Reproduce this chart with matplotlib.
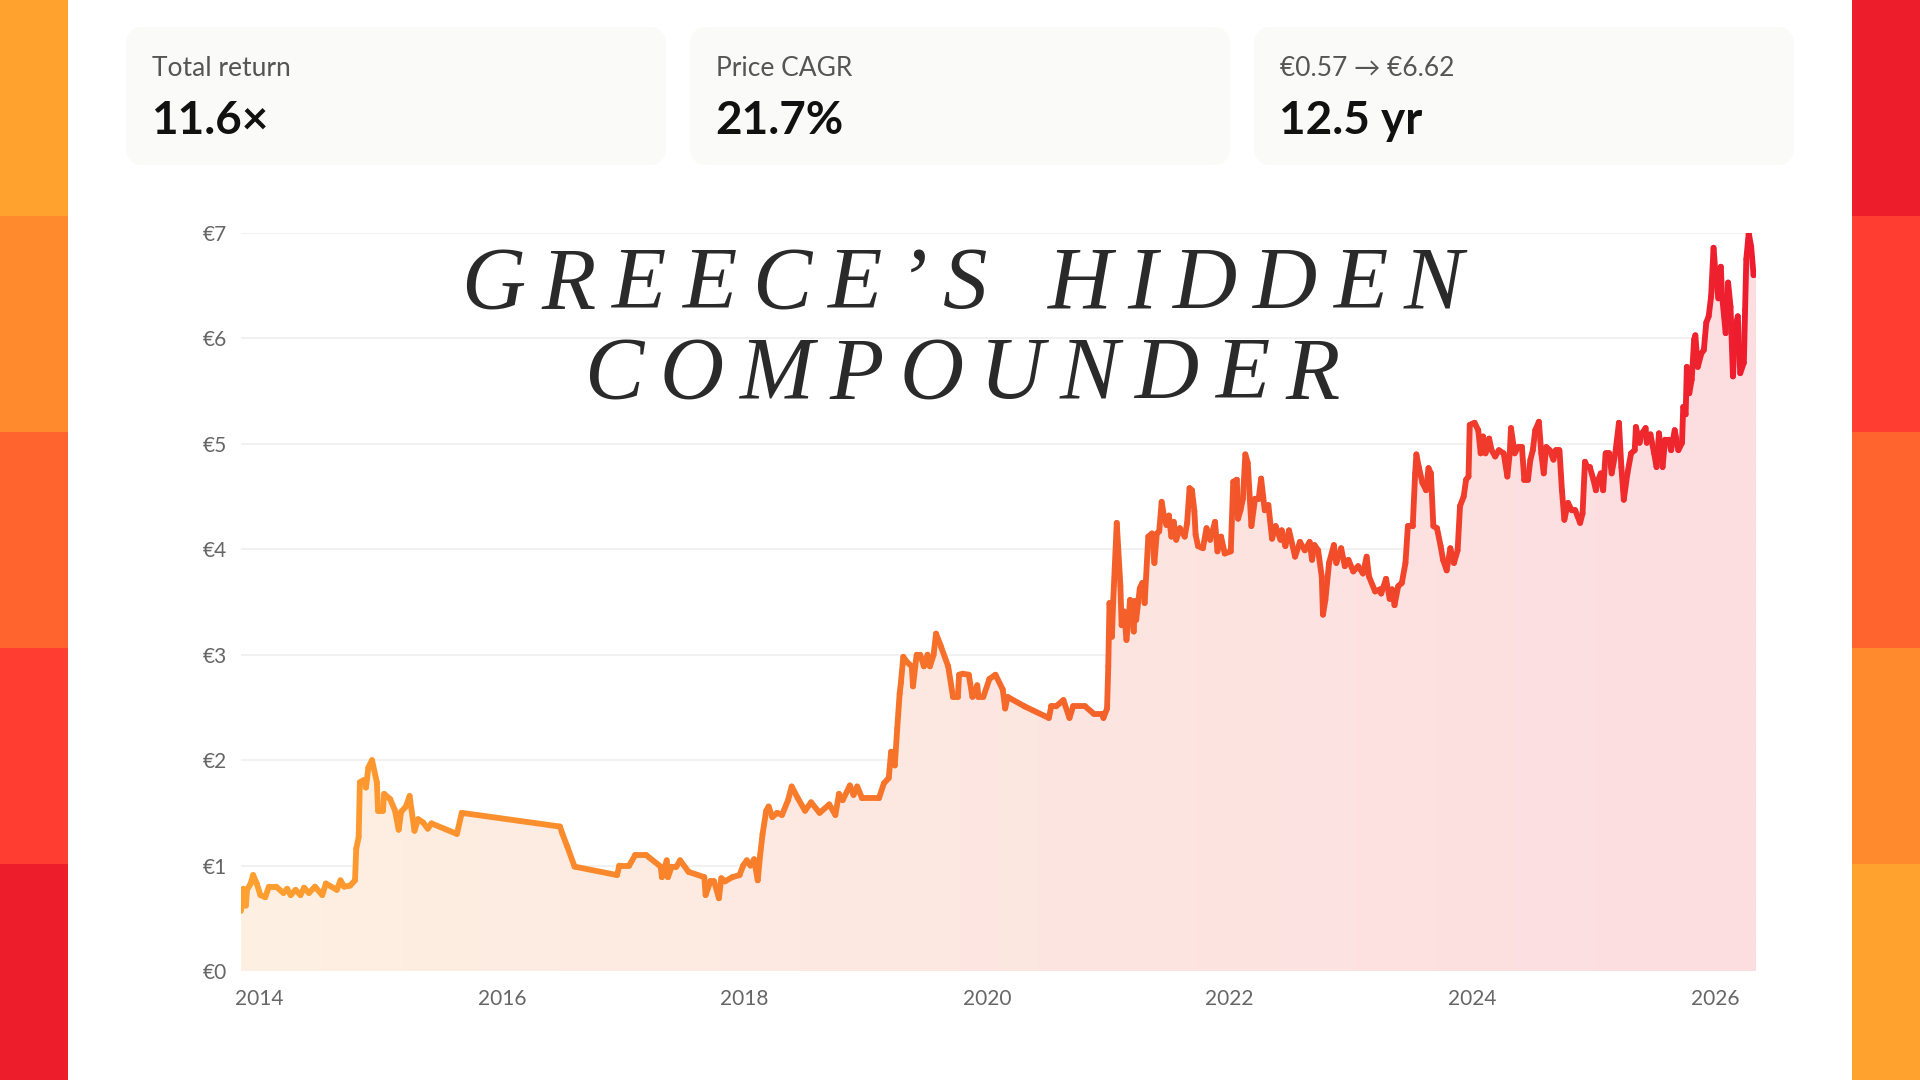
import numpy as np
import matplotlib
matplotlib.use("Agg")
import matplotlib.pyplot as plt
from matplotlib.collections import LineCollection
from matplotlib.colors import LinearSegmentedColormap, to_rgb
from matplotlib.patches import Rectangle, FancyBboxPatch, Polygon

plt.rcParams['font.family'] = ['Lato', 'DejaVu Sans']

# --- data (decimal year, price in EUR) ---
years = [
    2013.85, 2013.87, 2013.89, 2013.90, 2013.93, 2013.95, 2013.98, 2014.01, 2014.05, 2014.08,
    2014.14, 2014.20, 2014.23, 2014.26, 2014.30, 2014.34, 2014.37, 2014.41, 2014.46, 2014.52,
    2014.55, 2014.64, 2014.67, 2014.70, 2014.75, 2014.79, 2014.80, 2014.82, 2014.83, 2014.86,
    2014.88, 2014.90, 2014.93, 2014.97, 2014.98, 2015.02, 2015.03, 2015.08, 2015.12, 2015.15,
    2015.17, 2015.21, 2015.24, 2015.28, 2015.31, 2015.35, 2015.39, 2015.42, 2015.63, 2015.67,
    2016.48, 2016.50, 2016.54, 2016.60, 2016.95, 2016.97, 2017.05, 2017.10, 2017.19, 2017.31,
    2017.32, 2017.36, 2017.37, 2017.40, 2017.44, 2017.47, 2017.54, 2017.67, 2017.68, 2017.72,
    2017.75, 2017.79, 2017.81, 2017.84, 2017.90, 2017.96, 2017.99, 2018.02, 2018.05, 2018.08,
    2018.11, 2018.13, 2018.15, 2018.18, 2018.20, 2018.23, 2018.27, 2018.31, 2018.36, 2018.39,
    2018.44, 2018.50, 2018.55, 2018.62, 2018.70, 2018.75, 2018.78, 2018.81, 2018.87, 2018.90,
    2018.93, 2018.97, 2019.11, 2019.15, 2019.19, 2019.21, 2019.24, 2019.26, 2019.28, 2019.29,
    2019.31, 2019.34, 2019.38, 2019.39, 2019.42, 2019.45, 2019.48, 2019.51, 2019.53, 2019.56,
    2019.58, 2019.62, 2019.68, 2019.72, 2019.76, 2019.77, 2019.80, 2019.85, 2019.88, 2019.92,
    2019.93, 2019.97, 2020.02, 2020.07, 2020.13, 2020.15, 2020.17, 2020.31, 2020.51, 2020.53,
    2020.57, 2020.63, 2020.68, 2020.71, 2020.81, 2020.88, 2020.95, 2020.96, 2020.99, 2021.00,
    2021.01, 2021.03, 2021.04, 2021.07, 2021.10, 2021.11, 2021.13, 2021.15, 2021.18, 2021.21,
    2021.22, 2021.23, 2021.26, 2021.28, 2021.30, 2021.33, 2021.36, 2021.38, 2021.40, 2021.42,
    2021.44, 2021.46, 2021.48, 2021.50, 2021.52, 2021.54, 2021.56, 2021.59, 2021.63, 2021.65,
    2021.67, 2021.69, 2021.71, 2021.72, 2021.74, 2021.78, 2021.81, 2021.84, 2021.88, 2021.90,
    2021.93, 2021.96, 2022.01, 2022.03, 2022.06, 2022.07, 2022.09, 2022.11, 2022.13, 2022.15,
    2022.18, 2022.21, 2022.24, 2022.26, 2022.29, 2022.32, 2022.35, 2022.38, 2022.42, 2022.43,
    2022.46, 2022.49, 2022.54, 2022.58, 2022.62, 2022.66, 2022.68, 2022.70, 2022.73, 2022.76,
    2022.77, 2022.79, 2022.82, 2022.86, 2022.88, 2022.92, 2022.95, 2022.98, 2023.02, 2023.06,
    2023.10, 2023.13, 2023.15, 2023.20, 2023.24, 2023.25, 2023.29, 2023.32, 2023.34, 2023.36,
    2023.39, 2023.42, 2023.45, 2023.47, 2023.51, 2023.53, 2023.54, 2023.56, 2023.59, 2023.62,
    2023.64, 2023.66, 2023.68, 2023.71, 2023.74, 2023.76, 2023.79, 2023.82, 2023.85, 2023.88,
    2023.90, 2023.93, 2023.95, 2023.97, 2023.98, 2024.02, 2024.05, 2024.07, 2024.09, 2024.11,
    2024.14, 2024.16, 2024.19, 2024.22, 2024.26, 2024.29, 2024.31, 2024.32, 2024.35, 2024.38,
    2024.41, 2024.43, 2024.46, 2024.48, 2024.50, 2024.52, 2024.55, 2024.57, 2024.59, 2024.61,
    2024.64, 2024.67, 2024.69, 2024.72, 2024.74, 2024.76, 2024.79, 2024.82, 2024.85, 2024.89,
    2024.91, 2024.93, 2024.95, 2024.97, 2025.00, 2025.02, 2025.04, 2025.06, 2025.08, 2025.10,
    2025.13, 2025.15, 2025.18, 2025.21, 2025.23, 2025.25, 2025.28, 2025.31, 2025.34, 2025.35,
    2025.38, 2025.40, 2025.43, 2025.44, 2025.47, 2025.50, 2025.52, 2025.54, 2025.57, 2025.59,
    2025.62, 2025.64, 2025.67, 2025.70, 2025.73, 2025.74, 2025.76, 2025.77, 2025.79, 2025.81,
    2025.83, 2025.84, 2025.86, 2025.89, 2025.91, 2025.93, 2025.95, 2025.97, 2025.99, 2026.01,
    2026.03, 2026.05, 2026.06, 2026.09, 2026.11, 2026.13, 2026.15, 2026.17, 2026.19, 2026.21,
    2026.24, 2026.25, 2026.26, 2026.28, 2026.30, 2026.32, 2026.34,
]
prices = [
    0.57, 0.78, 0.62, 0.77, 0.83, 0.91, 0.83, 0.72, 0.70, 0.80,
    0.80, 0.74, 0.78, 0.72, 0.77, 0.72, 0.79, 0.74, 0.80, 0.72,
    0.83, 0.77, 0.86, 0.80, 0.81, 0.86, 1.16, 1.27, 1.79, 1.81,
    1.74, 1.93, 2.00, 1.79, 1.52, 1.52, 1.68, 1.63, 1.52, 1.34,
    1.51, 1.56, 1.66, 1.33, 1.44, 1.41, 1.35, 1.40, 1.30, 1.50,
    1.37, 1.30, 1.18, 0.99, 0.91, 1.00, 1.00, 1.10, 1.10, 0.99,
    0.89, 1.05, 0.89, 0.99, 0.99, 1.05, 0.94, 0.89, 0.72, 0.85,
    0.85, 0.69, 0.88, 0.85, 0.89, 0.91, 1.00, 1.05, 1.00, 1.06,
    0.86, 1.10, 1.30, 1.52, 1.56, 1.46, 1.50, 1.48, 1.62, 1.75,
    1.64, 1.52, 1.60, 1.50, 1.58, 1.48, 1.68, 1.62, 1.76, 1.67,
    1.75, 1.64, 1.64, 1.78, 1.83, 2.08, 1.95, 2.30, 2.63, 2.73,
    2.98, 2.93, 2.89, 2.70, 3.00, 3.00, 2.89, 3.00, 2.89, 3.00,
    3.20, 3.08, 2.89, 2.60, 2.60, 2.81, 2.82, 2.81, 2.60, 2.71,
    2.60, 2.60, 2.77, 2.81, 2.67, 2.49, 2.60, 2.51, 2.40, 2.51,
    2.51, 2.57, 2.40, 2.51, 2.51, 2.44, 2.44, 2.40, 2.49, 2.89,
    3.49, 3.17, 3.49, 4.25, 3.65, 3.28, 3.41, 3.14, 3.52, 3.22,
    3.51, 3.33, 3.63, 3.68, 3.49, 4.12, 4.15, 3.87, 4.15, 4.17,
    4.45, 4.31, 4.23, 4.32, 4.12, 4.26, 4.09, 4.20, 4.12, 4.25,
    4.58, 4.56, 4.36, 4.14, 4.03, 4.01, 4.20, 4.09, 4.26, 3.98,
    4.12, 3.96, 3.98, 4.64, 4.66, 4.29, 4.37, 4.48, 4.90, 4.82,
    4.22, 4.48, 4.48, 4.67, 4.37, 4.42, 4.10, 4.22, 4.09, 4.18,
    4.03, 4.18, 3.93, 4.07, 3.99, 4.07, 3.90, 4.04, 3.99, 3.74,
    3.38, 3.52, 3.87, 4.04, 3.87, 4.01, 3.84, 3.90, 3.79, 3.84,
    3.77, 3.93, 3.74, 3.60, 3.62, 3.58, 3.72, 3.53, 3.62, 3.47,
    3.65, 3.68, 3.87, 4.22, 4.22, 4.72, 4.90, 4.78, 4.63, 4.56,
    4.77, 4.72, 4.22, 4.20, 4.03, 3.90, 3.80, 4.01, 3.87, 3.99,
    4.41, 4.50, 4.66, 4.69, 5.18, 5.20, 5.13, 4.91, 5.07, 4.91,
    5.05, 4.94, 4.88, 4.94, 4.91, 4.69, 4.91, 5.15, 4.91, 4.97,
    4.97, 4.66, 4.66, 4.85, 4.94, 5.13, 5.21, 4.91, 4.72, 4.97,
    4.94, 4.85, 4.94, 4.94, 4.56, 4.28, 4.44, 4.37, 4.37, 4.25,
    4.34, 4.83, 4.78, 4.78, 4.66, 4.56, 4.66, 4.72, 4.56, 4.91,
    4.91, 4.72, 4.91, 5.20, 4.78, 4.47, 4.72, 4.91, 4.94, 5.16,
    5.01, 5.10, 5.15, 5.01, 5.09, 4.91, 4.78, 5.10, 4.78, 5.04,
    5.04, 4.94, 5.13, 4.94, 5.01, 5.35, 5.28, 5.73, 5.48, 5.61,
    5.99, 6.03, 5.73, 5.86, 5.89, 6.15, 6.21, 6.40, 6.86, 6.56,
    6.38, 6.68, 6.41, 6.05, 6.53, 6.30, 5.64, 6.11, 6.21, 5.67,
    5.77, 6.27, 6.75, 7.00, 6.87, 6.60, 6.62,
]

y_ticks = [0, 1, 2, 3, 4, 5, 6, 7]
y_tick_labels = ['€0', '€1', '€2', '€3', '€4', '€5', '€6', '€7']
x_ticks = [2014, 2016, 2018, 2020, 2022, 2024, 2026]

card_labels = ['Total return', 'Price CAGR', '€0.57 → €6.62']
card_values = ['11.6×', '21.7%', '12.5 yr']

title_lines = ['GREECE’S HIDDEN', 'COMPOUNDER']

stripe_left = ['#FFA22E', '#FF8A2E', '#FF632E', '#FF3D30', '#EE1D2C']
stripe_right = stripe_left[::-1]

W, H = 1920, 1080
fig = plt.figure(figsize=(19.2, 10.8), dpi=100)
fig.patch.set_facecolor('white')

# background layer in pixel coordinates
bg = fig.add_axes([0, 0, 1, 1], zorder=-1)
bg.set_xlim(0, W)
bg.set_ylim(H, 0)
bg.axis('off')

band_h = H / len(stripe_left)
for i, c in enumerate(stripe_left):
    bg.add_patch(Rectangle((0, i * band_h), 68, band_h + 1, color=c, lw=0))
for i, c in enumerate(stripe_right):
    bg.add_patch(Rectangle((1852, i * band_h), 68, band_h + 1, color=c, lw=0))

card_x = [126, 690, 1254]
card_w = 540
for x0, lab, val in zip(card_x, card_labels, card_values):
    bg.add_patch(FancyBboxPatch((x0, 27), card_w, 138,
                                boxstyle='round,pad=0,rounding_size=18',
                                fc='#FAFAF8', ec='none'))
    bg.text(x0 + 26, 69, lab, fontsize=19, color='#555555', va='center', ha='left')
    bg.text(x0 + 25, 121, val, fontsize=33, color='#111111', fontweight='bold',
            va='center', ha='left')

# chart
ax = fig.add_axes([241 / W, 1 - 971 / H, (1756 - 241) / W, (971 - 233) / H])
ax.set_facecolor('none')
x0, x1 = years[0], years[-1]

cmap = LinearSegmentedColormap.from_list(
    'line', [(0, '#FFA030'), (0.4, '#F7782A'), (0.7, '#F2502A'), (1, '#EE1C2E')])

# gradient fill clipped under the line
c_left = np.array(to_rgb('#FEF0E2'))
c_right = np.array(to_rgb('#FCDDE0'))
t = np.linspace(0, 1, 400)
grad = (c_left[None, :] * (1 - t[:, None]) + c_right[None, :] * t[:, None])[None, :, :]
im = ax.imshow(grad, extent=[x0, x1, 0, 7], aspect='auto', origin='lower',
               interpolation='bilinear', zorder=1)
verts = [(x0, 0)] + list(zip(years, prices)) + [(x1, 0)]
clip = Polygon(verts, closed=True, fc='none', ec='none', transform=ax.transData)
ax.add_patch(clip)
im.set_clip_path(clip)

pts = np.column_stack([years, prices])
segs = np.stack([pts[:-1], pts[1:]], axis=1)
mid = (pts[:-1, 0] + pts[1:, 0]) / 2
lc = LineCollection(segs, colors=cmap((mid - x0) / (x1 - x0)), linewidths=4.2,
                    capstyle='round', joinstyle='round', zorder=3)
ax.add_collection(lc)

ax.set_xlim(x0, x1)
ax.set_ylim(0, 7)
ax.set_yticks(y_ticks)
ax.set_yticklabels(y_tick_labels)
ax.set_xticks(x_ticks)
ax.set_xticklabels([str(v) for v in x_ticks])
ax.tick_params(length=0, labelsize=15, labelcolor='#666666')
ax.tick_params(axis='y', pad=10)
ax.tick_params(axis='x', pad=13)
ax.yaxis.grid(True, color='#EFEFEF', lw=1.2)
ax.set_axisbelow(True)
for s in ax.spines.values():
    s.set_visible(False)

# letter-spaced title
renderer = fig.canvas.get_renderer()


def tracked(text, cx, baseline, gap, word_gap, **kw):
    items = []
    for ch in text:
        if ch == ' ':
            items.append((None, word_gap))
            continue
        tt = bg.text(0, baseline, ch, va='baseline', ha='left', zorder=5, **kw)
        items.append((tt, tt.get_window_extent(renderer).width))
    total = sum(w for _, w in items) + gap * (len(items) - 1)
    x = cx - total / 2
    for tt, w in items:
        if tt is not None:
            tt.set_x(x)
        x += w + gap


title_kw = dict(fontsize=64, fontstyle='italic', color='#2A2A2A',
                family=['Liberation Serif', 'DejaVu Serif'])
tracked(title_lines[0], 962, 308, 16, 28, **title_kw)
tracked(title_lines[1], 962, 398, 16, 28, **title_kw)

fig.savefig('out.png', dpi=100, facecolor='white')
